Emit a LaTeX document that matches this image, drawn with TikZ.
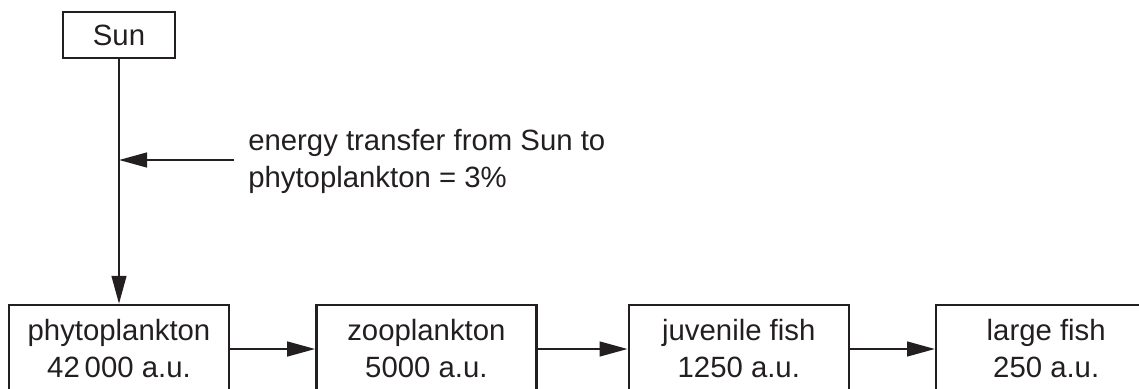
\documentclass[tikz,border=0pt]{standalone}
\usepackage{fontspec}
\setmainfont{Liberation Sans}
\usetikzlibrary{positioning,arrows.meta}
\definecolor{ink}{RGB}{35,31,32}
\tikzset{
  level/.style={draw=ink, line width=1.8pt, minimum width=165pt, minimum height=66pt, align=center, inner sep=0pt, text=ink},
  flow/.style={draw=ink, line width=1.8pt, -{Triangle[length=21pt,width=11pt]}},
}

\begin{document}
\begin{tikzpicture}[x=0.75pt,y=-0.75pt, font=\fontsize{22}{27.75}\selectfont]
\useasboundingbox (0,0) rectangle (1139,389);
\clip (0,0) rectangle (1139,389);

\node[level, minimum width=84pt, minimum height=34.5pt] (sun) at (119,35) {Sun};

\node[level] (phyto) at (119,349) {phytoplankton\\42\,000 a.u.};
\node[level, right=63.75pt of phyto] (zoo) {zooplankton\\5000 a.u.};
\node[level, right=67.5pt of zoo] (juvfish) {juvenile fish\\1250 a.u.};
\node[level, right=63.75pt of juvfish] (bigfish) {large fish\\250 a.u.};

\node[anchor=north west, align=left, inner sep=0pt, text=ink] (note) at (248,129) {energy transfer from Sun to\\phytoplankton = 3\%};
\coordinate (notetail) at (234,160);

\draw[flow] (sun) -- (phyto);
\draw[flow] (notetail) -- (notetail -| sun.south);

\draw[flow] (phyto) -- (zoo);
\draw[flow] (zoo) -- (juvfish);
\draw[flow] (juvfish) -- (bigfish);
\end{tikzpicture}
\end{document}
